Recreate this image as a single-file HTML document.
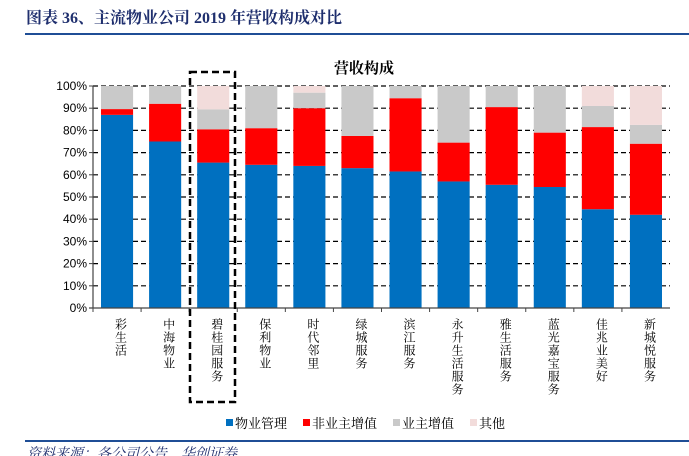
<!DOCTYPE html>
<html><head><meta charset="utf-8"><style>
body{margin:0;background:#fff;width:689px;height:456px;overflow:hidden;font-family:"Liberation Serif","Noto Serif CJK SC",serif}
svg{display:block}
</style></head><body>
<svg id="c" width="689" height="456" xmlns="http://www.w3.org/2000/svg">
<text x="26" y="23" font-size="16" font-weight="bold" fill="#1f2f6e" font-family="Liberation Serif,'Noto Serif CJK SC',serif">图表 36、主流物业公司 2019 年营收构成对比</text>
<rect x="25" y="33" width="664" height="2" fill="#1f4e96"/>
<text x="364" y="73" font-size="15" font-weight="bold" text-anchor="middle" fill="#000" font-family="'Noto Serif CJK SC',serif">营收构成</text>
<g id="grid"></g><g id="bars"></g><g id="axes"></g><g id="labels"></g>
<rect x="190" y="72" width="45" height="330" fill="none" stroke="#000" stroke-width="2.5" stroke-dasharray="7,4"/>
<g font-size="13" font-family="'Noto Serif CJK SC',serif">
<rect x="226" y="419" width="7" height="7" fill="#0070c0"/><text x="235" y="428">物业管理</text>
<rect x="303" y="419" width="7" height="7" fill="#ff0000"/><text x="312" y="428">非业主增值</text>
<rect x="393" y="419" width="7" height="7" fill="#c9c9c9"/><text x="402" y="428">业主增值</text>
<rect x="470" y="419" width="7" height="7" fill="#f2dcdb"/><text x="479" y="428">其他</text>
</g>
<rect x="25" y="440" width="664" height="2" fill="#1f4e96"/>
<text x="27" y="458" font-size="14" font-style="italic" fill="#1f2f6e" font-family="'Noto Serif CJK SC',serif">资料来源：各公司公告，华创证券</text>
</svg>
<script>
const categories=["彩生活","中海物业","碧桂园服务","保利物业","时代邻里","绿城服务","滨江服务","永升生活服务","雅生活服务","蓝光嘉宝服务","佳兆业美好","新城悦服务"];
const propertyMgmt=[87,75,65.5,64.5,64,63,61.5,57,55.5,54.5,44.5,42];
const nonOwner=[2.6,17,15,16.5,26,14.5,33,17.5,35,24.5,37,32];
const owner=[10.4,8,9,19,7,22.5,5.5,25.5,9.5,21,9.5,8.5];
const other=[0,0,10.5,0,3,0,0,0,0,0,9,17.5];
const yTicks=[0,10,20,30,40,50,60,70,80,90,100];
const series=[[propertyMgmt,"#0070c0","property-mgmt"],[nonOwner,"#ff0000","non-owner"],[owner,"#c9c9c9","owner"],[other,"#f2dcdb","other"]];
const NS="http://www.w3.org/2000/svg";
const x0=93,x1=670,y0=308,y1=86;
const bw=(x1-x0)/categories.length;
const ys=v=>y0-(y0-y1)*v/100;
const xs=i=>x0+bw*i;
function mk(t,a,p){const e=document.createElementNS(NS,t);for(const k in a)e.setAttribute(k,a[k]);document.getElementById(p).appendChild(e);return e;}
yTicks.forEach(t=>{
 if(t>0){const g=mk("line",{x1:x0,x2:x1,y1:ys(t),y2:ys(t),stroke:"#000","stroke-width":1.2,"stroke-dasharray":"5,3"},"grid");
 
 }
 const l=mk("text",{x:x0-6,y:ys(t)+4,"text-anchor":"end","font-size":12,"font-family":"Liberation Sans,sans-serif"},"labels");
 l.textContent=t+"%";
 
 
 const tk=mk("line",{x1:x0-4,x2:x0,y1:ys(t),y2:ys(t),stroke:"#444"},"axes");
 
 
});
categories.forEach((c,i)=>{
 let acc=0;
 series.forEach(([arr,col,nm])=>{
  const v=arr[i];if(v>0){
   const r=mk("rect",{x:xs(i)+8,y:ys(acc+v),width:bw-16,height:ys(acc)-ys(acc+v),fill:col},"bars");
   
   }
  acc+=v;});
 const tk=mk("line",{x1:xs(i),x2:xs(i),y1:y0,y2:y0+4,stroke:"#444"},"axes");
 
 
 const t=mk("text",{x:xs(i)+bw/2+4,y:y0+10,"font-size":12,"writing-mode":"tb","font-family":"'Noto Serif CJK SC',serif","letter-spacing":"1"},"labels");
 t.textContent=c;
 
 
});
const ax=mk("line",{x1:x0,x2:x0,y1:y1,y2:y0,stroke:"#444","stroke-width":1.2},"axes");


const bx=mk("line",{x1:x0-4,x2:x1,y1:y0,y2:y0,stroke:"#444","stroke-width":1.2},"axes");


</script>
</body></html>
